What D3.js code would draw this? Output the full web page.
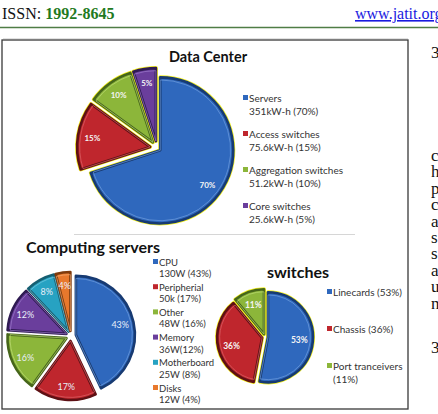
<!DOCTYPE html>
<html lang="en">
<head>
<meta charset="UTF-8">
<script src="https://cdnjs.cloudflare.com/ajax/libs/d3/7.8.5/d3.min.js"></script>
<style>
body{ margin:0; background:#fff; }
svg text{ font-family: Lato, "Open Sans", sans-serif; }
.serif{ font-family: "Liberation Serif", "DejaVu Serif", serif !important; }
</style>
</head>
<body>
<div id="main-container"></div>
<script type="text/javascript">
/* global d3 */

// data center energy split
const dcNames = ['Servers', 'Access switches', 'Aggregation switches', 'Core switches'];
const dcValues = [70, 15, 10, 5];
const dcDetail = ['351kW-h (70%)', '75.6kW-h (15%)', '51.2kW-h (10%)', '25.6kW-h (5%)'];

// computing servers split
const srvNames = ['CPU', 'Peripherial', 'Other', 'Memory', 'Motherboard', 'Disks'];
const srvValues = [43, 17, 16, 12, 8, 4];
const srvDetail = ['130W (43%)', '50k (17%)', '48W (16%)', '36W(12%)', '25W (8%)', '12W (4%)'];

// switches split
const swNames = ['Linecards (53%)', 'Chassis (36%)', 'Port tranceivers'];
const swValues = [53, 36, 11];
const swDetail = ['', '', '(11%)'];

// page text on the right (cut off column)
const sideChars = ['3', 'c', 'h', 'p', 'c', 'a', 's', 's', 'a', 'u', 'n', '3'];

const pal = {
  blue:   {fill:'#2f68bd', dark:'#173a72', light:'#76a3e2'},
  red:    {fill:'#bf262d', dark:'#5e1014', light:'#e0686c'},
  green:  {fill:'#8cb63a', dark:'#46661a', light:'#c2e07a'},
  purple: {fill:'#6a3e9c', dark:'#2f1a52', light:'#a17fd0'},
  teal:   {fill:'#27a2c2', dark:'#155f72', light:'#7fd0e6'},
  orange: {fill:'#e8782c', dark:'#7e3a0c', light:'#f6b07a'}
};

const w = 438, h = 414;
const svg = d3.select('#main-container').append('svg').attr('width', w).attr('height', h);

// header
const head = svg.append('text').attr('class','serif').attr('x', 2).attr('y', 19).style('font-size','16px');
head.append('tspan').attr('fill','#111').text('ISSN: ');
head.append('tspan').attr('fill','#1f7a22').style('font-weight','bold').text('1992-8645');
svg.append('text').attr('class','serif').attr('x', 355).attr('y', 19).style('font-size','16px')
  .attr('fill','#1a1adf').style('text-decoration','underline').text('www.jatit.org');
svg.append('line').attr('x1',0).attr('x2',w).attr('y1',27.5).attr('y2',27.5).attr('stroke','#4f7d45').attr('stroke-width',1.5);
svg.append('line').attr('x1',3).attr('x2',408).attr('y1',38.5).attr('y2',38.5).attr('stroke','#e2e2e2').attr('stroke-width',1);

// figure frame
svg.append('rect').attr('x',2).attr('y',40).attr('width',406).attr('height',369)
  .attr('fill','#fff').attr('stroke','#3a3a3a').attr('stroke-width',1.3);

// separator under first chart
svg.append('line').attr('x1',74).attr('x2',355).attr('y1',234.5).attr('y2',234.5).attr('stroke','#d6d6d6').attr('stroke-width',1);

// side column
svg.selectAll('.side').data(sideChars).enter().append('text')
  .attr('class','serif side').attr('x',431)
  .attr('y',(d,i)=> i===0 ? 58 : (i===sideChars.length-1 ? 353 : 161 + (i-1)*16.4))
  .style('font-size','17px').attr('fill','#111').text(d=>d);

function drawPie(opt){
  const g = svg.append('g');
  const pie = d3.pie().sort(null).value(d=>d)(opt.values);
  const arc = d3.arc().innerRadius(0).outerRadius(opt.r);
  const inner = d3.arc().innerRadius(0).outerRadius(opt.r - 2.6);
  const offset = (d,i)=>{
    const a = (d.startAngle + d.endAngle)/2, e = opt.explode[i];
    return [opt.cx + e*Math.sin(a), opt.cy - e*Math.cos(a)];
  };
  // glow underneath
  g.selectAll('.glow').data(pie).enter().append('path')
    .attr('transform',(d,i)=>'translate('+offset(d,i)+')')
    .attr('d',arc).attr('fill',opt.glow).attr('stroke',opt.glow)
    .attr('stroke-width',opt.glowW).attr('stroke-linejoin','round');
  const s = g.selectAll('.slice').data(pie).enter().append('g')
    .attr('transform',(d,i)=>'translate('+offset(d,i)+')');
  s.append('path').attr('d',arc)
    .attr('fill',(d,i)=>pal[opt.colors[i]].fill)
    .attr('stroke',(d,i)=>pal[opt.colors[i]].dark).attr('stroke-width',2.6).attr('stroke-linejoin','round');
  s.append('path').attr('d',inner).attr('fill','none')
    .attr('stroke',(d,i)=>pal[opt.colors[i]].light).attr('stroke-width',0.8).attr('stroke-opacity',0.8);
  s.append('text')
    .attr('transform',d=>{
      const a = (d.startAngle + d.endAngle)/2, lr = opt.r*opt.labelR;
      return 'translate('+(lr*Math.sin(a))+','+(-lr*Math.cos(a))+')';
    })
    .attr('text-anchor','middle').attr('dominant-baseline','central')
    .style('font-size',opt.labelSize).style('font-weight',opt.labelWeight)
    .attr('fill',opt.labelFill).text(d=>d.value+'%');
}

function drawLegend(opt){
  const g = svg.append('g');
  const item = g.selectAll('.item').data(opt.names).enter().append('g')
    .attr('transform',(d,i)=>'translate('+opt.x+','+(opt.y + i*opt.step)+')');
  item.append('rect').attr('x',-6).attr('y',-3).attr('width',5).attr('height',5)
    .attr('fill',(d,i)=>pal[opt.colors[i]].fill);
  item.append('text').attr('x',0).attr('y',0).attr('dominant-baseline','central')
    .style('font-size',opt.size).attr('fill','#333').text(d=>d);
  item.append('text').attr('x',0).attr('y',opt.line).attr('dominant-baseline','central')
    .style('font-size',opt.size).attr('fill','#333').text((d,i)=>opt.detail[i]);
}

// titles
svg.append('text').attr('x',208).attr('y',62).attr('text-anchor','middle')
  .style('font-size','14.5px').style('font-weight','bold').attr('fill','#111').text('Data Center');
svg.append('text').attr('x',93).attr('y',253).attr('text-anchor','middle')
  .style('font-size','16px').style('font-weight','bold').attr('fill','#111').text('Computing servers');
svg.append('text').attr('x',298).attr('y',278).attr('text-anchor','middle')
  .style('font-size','16px').style('font-weight','bold').attr('fill','#111').text('switches');

drawPie({values:dcValues, cx:157, cy:148, r:73, explode:[4,7,7,7],
  colors:['blue','red','green','purple'], glow:'#f2ee1c', glowW:4,
  labelR:0.8, labelSize:'8px', labelWeight:'bold', labelFill:'#f4f4f4'});
drawLegend({names:dcNames, detail:dcDetail, colors:['blue','red','green','purple'],
  x:249, y:98, step:36, line:12.5, size:'10px'});

drawPie({values:srvValues, cx:71, cy:336, r:59, explode:[5,5,5,5,5,5],
  colors:['blue','red','green','purple','teal','orange'], glow:'#eeeeee', glowW:2,
  labelR:0.77, labelSize:'9px', labelWeight:'normal', labelFill:'#e8eef8'});
drawLegend({names:srvNames, detail:srvDetail, colors:['blue','red','green','purple','teal','orange'],
  x:159, y:262, step:25.2, line:11.5, size:'9.5px'});

drawPie({values:swValues, cx:265, cy:337, r:45, explode:[3,3,3],
  colors:['blue','red','green'], glow:'#f2ee1c', glowW:4,
  labelR:0.7, labelSize:'8.5px', labelWeight:'bold', labelFill:'#f4f4f4'});
drawLegend({names:swNames, detail:swDetail, colors:['blue','red','green'],
  x:333, y:292, step:37, line:12.5, size:'10px'});
</script>
</body>
</html>
